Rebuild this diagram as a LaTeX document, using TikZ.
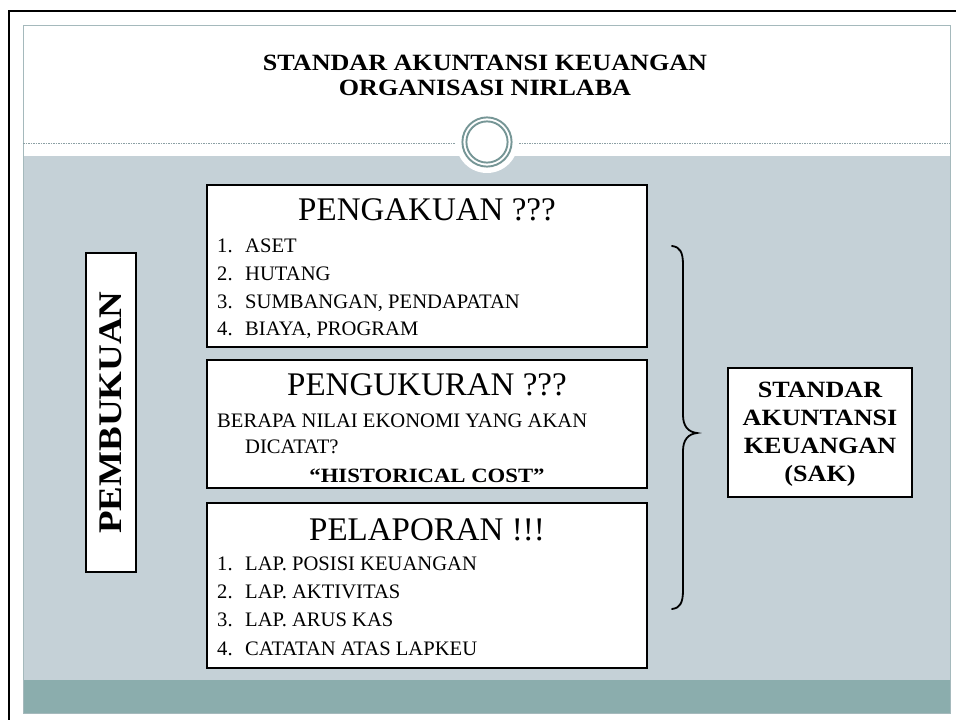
\documentclass[tikz,border=0pt]{standalone}
\usepackage{fontspec}
\setmainfont{Liberation Serif}[BoldFeatures={FakeStretch=1.12}]
\definecolor{bgray}{RGB}{197,209,215}
\definecolor{bteal}{RGB}{139,173,173}
\definecolor{ringc}{RGB}{118,150,150}
\definecolor{sborder}{RGB}{165,185,188}
\definecolor{dashc}{RGB}{140,160,164}
\begin{document}
\begin{tikzpicture}[x=1pt,y=-1pt,
  boxstyle/.style={draw=black,line width=2.6pt,fill=white,inner sep=0pt},
  txt/.style={inner sep=0pt,anchor=base west,font=\fontsize{20.6}{24}\selectfont},
  head/.style={inner sep=0pt,anchor=base,font=\fontsize{33}{36}\selectfont},
  bhead/.style={inner sep=0pt,anchor=base,font=\fontsize{23.3}{26}\selectfont\bfseries}]
\useasboundingbox (0,0) rectangle (956,720);
% outer frame
\draw[line width=2.6pt] (9,725) -- (9,11) -- (962,11);
% slide
\path[fill=white] (23,25) rectangle (950,713);
\path[fill=bgray] (23,156) rectangle (950,680);
\path[fill=bteal] (23,680) rectangle (950,713);
\draw[sborder,line width=1pt] (23,25) rectangle (950,713);
% dashed separator
\draw[dashc,line width=0.7pt,dash pattern=on 1.5pt off 1pt] (23,143) -- (455,143);
\draw[dashc,line width=0.7pt,dash pattern=on 1.5pt off 1pt] (519,143) -- (950,143);
% ring
\fill[white] (487,142) circle (31);
\draw[ringc,line width=1.9pt] (487,142) circle (24.6);
\draw[ringc,line width=1.9pt] (487,142) circle (20.6);
% title
\node[bhead] (t1) at (485,70) {STANDAR AKUNTANSI KEUANGAN};
\node[bhead] (t2) at (485,95) {ORGANISASI NIRLABA};
% left box
\node[boxstyle,minimum width=50,minimum height=319] (pemb) at (111,412.5) {};
\node[inner sep=0pt,rotate=90,font=\fontsize{33}{36}\selectfont\bfseries] (pembt) at (111,412.5) {PEMBUKUAN};
% box 1
\node[boxstyle,minimum width=440,minimum height=162] (b1) at (427,266) {};
\node[head] (b1h) at (427,220) {PENGAKUAN ???};
\node[txt] (b1a) at (217,252) {\makebox[28pt][l]{1.}ASET};
\node[txt] (b1b) at (217,280) {\makebox[28pt][l]{2.}HUTANG};
\node[txt] (b1c) at (217,308) {\makebox[28pt][l]{3.}SUMBANGAN, PENDAPATAN};
\node[txt] (b1d) at (217,335) {\makebox[28pt][l]{4.}BIAYA, PROGRAM};
% box 2
\node[boxstyle,minimum width=440,minimum height=128] (b2) at (427,424) {};
\node[head] (b2h) at (427,395) {PENGUKURAN ???};
\node[txt] (b2a) at (217,427) {BERAPA NILAI EKONOMI YANG AKAN};
\node[txt] (b2b) at (245,453) {DICATAT?};
\node[inner sep=0pt,anchor=base,font=\fontsize{20.3}{24}\selectfont\bfseries] (b2c) at (427,482) {“HISTORICAL COST”};
% box 3
\node[boxstyle,minimum width=440,minimum height=165] (b3) at (427,585.5) {};
\node[head] (b3h) at (427,540) {PELAPORAN !!!};
\node[txt] (b3a) at (217,570) {\makebox[28pt][l]{1.}LAP. POSISI KEUANGAN};
\node[txt] (b3b) at (217,598) {\makebox[28pt][l]{2.}LAP. AKTIVITAS};
\node[txt] (b3c) at (217,626) {\makebox[28pt][l]{3.}LAP. ARUS KAS};
\node[txt] (b3d) at (217,655) {\makebox[28pt][l]{4.}CATATAN ATAS LAPKEU};
% brace
\draw[line width=1.8pt,line cap=round] (672,246) .. controls (680,247) and (683,252) .. (683,265) -- (683,415) .. controls (683,426) and (688,432) .. (697,433) .. controls (688,434) and (683,440) .. (683,451) -- (683,590) .. controls (683,603) and (680,608) .. (672,609);
% SAK box
\node[boxstyle,minimum width=184,minimum height=129] (sak) at (820,432.5) {};
\node[bhead] (s1) at (820,397) {STANDAR};
\node[bhead] (s2) at (820,425) {AKUNTANSI};
\node[bhead] (s3) at (820,453) {KEUANGAN};
\node[bhead] (s4) at (820,481) {(SAK)};
\end{tikzpicture}
\end{document}
